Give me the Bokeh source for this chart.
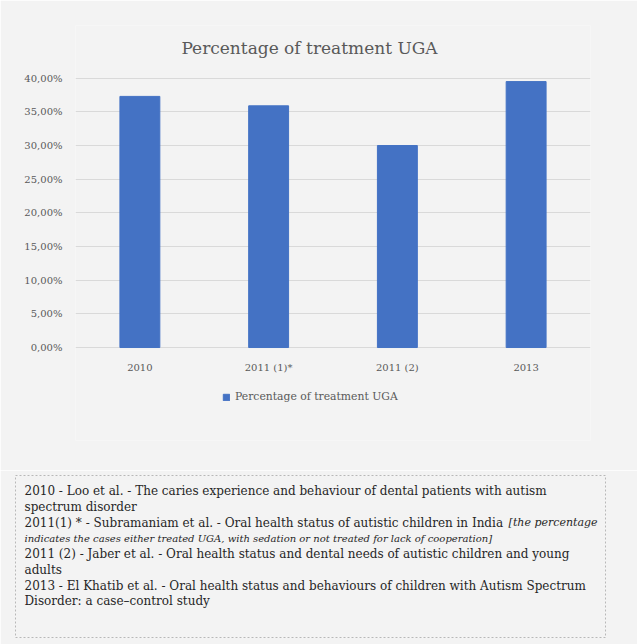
from bokeh.plotting import figure
from bokeh.models import (Range1d, FactorRange, FixedTicker, Label, Legend,
                          LegendItem, ColumnDataSource)
from bokeh.core.properties import value
from bokeh.embed import file_html
from bokeh.resources import INLINE

# ---- data ----
categories = ["2010", "2011 (1)*", "2011 (2)", "2013"]
treated_pct = [37.3, 35.9, 30.0, 39.5]
y_ticks = [0, 5, 10, 15, 20, 25, 30, 35, 40]
y_tick_labels = ["0,00%", "5,00%", "10,00%", "15,00%", "20,00%",
                 "25,00%", "30,00%", "35,00%", "40,00%"]
series_name = "Percentage of treatment UGA"
chart_title = "Percentage of treatment UGA"

note_lines = [
    "2010 - Loo et al. - The caries experience and behaviour of dental patients with autism",
    "spectrum disorder",
    "2011(1) * - Subramaniam et al. - Oral health status of autistic children in India",
    "",
    "2011 (2) - Jaber et al. - Oral health status and dental needs of autistic children and young",
    "adults",
    "2013 - El Khatib et al. - Oral health status and behaviours of children with Autism Spectrum",
    "Disorder: a case\u2013control study",
]
note_italic_tail = "[the percentage"
note_italic_line = "indicates  the cases either treated UGA, with sedation or not treated for lack of cooperation]"

BG = "#f3f3f3"
GREY_TXT = "#595959"
SERIF = "DejaVu Serif"

# ---- chart ----
src = ColumnDataSource(dict(cat=categories, val=treated_pct))
p = figure(x_range=FactorRange(*categories), y_range=Range1d(-13.81, 47.83),
           width=637, height=470, output_backend="svg", toolbar_location=None,
           min_border_left=75, min_border_right=47, min_border_top=25,
           min_border_bottom=30)
p.background_fill_color = BG
p.border_fill_color = BG
p.outline_line_color = None

r = p.vbar(x="cat", top="val", width=0.31, source=src,
           fill_color="#4472C4", line_color="#4472C4")

p.xaxis.fixed_location = 0
p.yaxis.ticker = FixedTicker(ticks=y_ticks)
p.yaxis.major_label_overrides = {t: l for t, l in zip(y_ticks, y_tick_labels)}
for ax in (p.xaxis[0], p.yaxis[0]):
    ax.axis_line_color = None
    ax.major_tick_line_color = None
    ax.minor_tick_line_color = None
    ax.major_tick_out = 0
    ax.major_tick_in = 0
    ax.major_label_text_font = SERIF
    ax.major_label_text_font_size = "10px"
    ax.major_label_text_color = GREY_TXT
p.yaxis.major_label_standoff = 13
p.xaxis.major_label_standoff = 14
p.xgrid.grid_line_color = None
p.ygrid.grid_line_color = "#d9d9d9"
p.ygrid.ticker = FixedTicker(ticks=y_ticks)

p.add_layout(Label(x=234, y=393, x_units="screen", y_units="screen",
                   text=chart_title, text_align="center", text_baseline="middle",
                   text_font=SERIF, text_font_size="17px", text_color=GREY_TXT))

legend = Legend(items=[LegendItem(label=series_name, renderers=[r])],
                location=(147, 37), padding=0, margin=0, spacing=0,
                glyph_width=8, glyph_height=8, label_height=10, label_standoff=5,
                label_text_font=SERIF, label_text_font_size="10.8px",
                label_text_color=GREY_TXT, background_fill_alpha=0,
                border_line_color=None)
p.add_layout(legend)

# ---- notes box ----
q = figure(width=637, height=174, x_range=Range1d(0, 590),
           y_range=Range1d(9.289, -0.997), output_backend="svg",
           toolbar_location=None, x_axis_type=None, y_axis_type=None,
           min_border_left=15, min_border_right=32, min_border_top=5,
           min_border_bottom=7)
q.background_fill_color = BG
q.border_fill_color = BG
q.outline_line_color = "#b8b8b8"
q.outline_line_dash = "2 2"
q.xgrid.grid_line_color = None
q.ygrid.grid_line_color = None

nsrc = ColumnDataSource(dict(x=[9] * len(note_lines), y=list(range(len(note_lines))),
                             t=note_lines))
q.text(x="x", y="y", text="t", source=nsrc, text_font=value(SERIF),
       text_font_size="12px", text_baseline="middle", text_color="#262626")
isrc = ColumnDataSource(dict(x=[582], y=[2], t=[note_italic_tail]))
q.text(x="x", y="y", text="t", source=isrc, text_font=value(SERIF),
       text_font_style="italic", text_font_size="11px", text_baseline="middle",
       text_align="right", text_color="#262626")
lsrc = ColumnDataSource(dict(x=[9], y=[3], t=[note_italic_line]))
q.text(x="x", y="y", text="t", source=lsrc, text_font=value(SERIF),
       text_font_style="italic", text_font_size="10px", text_baseline="middle",
       text_color="#262626")

open("out.html", "w").write(file_html([p, q], INLINE))
